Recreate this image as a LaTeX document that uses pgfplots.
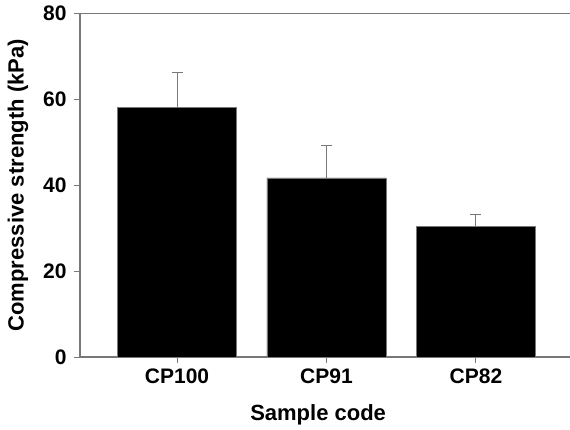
\documentclass[border=0pt]{standalone}
\usepackage{pgfplots}
\pgfplotsset{compat=1.18}
\usepackage{fontspec}
\setmainfont{Liberation Sans}
\definecolor{axgray}{RGB}{120,120,120}
\begin{document}
\begin{tikzpicture}
\begin{axis}[
  scale only axis,
  width=490pt, height=343.5pt,
  xmin=-0.649, xmax=2.629,
  ymin=0, ymax=80,
  axis x line*=box, axis y line*=left,
  axis line style={axgray, line width=1.3pt},
  xtick={0,1,2},
  xticklabels={CP100,CP91,CP82},
  ytick={0,20,40,60,80},
  xtick pos=lower, ytick pos=left,
  tick align=outside,
  major tick length=6pt,
  tick style={axgray, line width=1pt},
  /pgf/number format/assume math mode=true,
  ticklabel style={font=\fontsize{21}{25}\selectfont\bfseries},
  xticklabel style={yshift=-2pt},
  yticklabel style={xshift=-4pt},
  xlabel={Sample code},
  ylabel={Compressive strength (kPa)},
  label style={font=\fontsize{22}{26}\selectfont\bfseries},
  xlabel style={at={(axis description cs:0.486,0)}, anchor=center, yshift=-58pt},
  ylabel style={at={(axis description cs:0,0.5)}, anchor=center, yshift=62pt},
  ybar, bar width=119pt,
  clip=false,
]
\addplot[fill=black, draw=axgray, line width=0.8pt,
  error bars/.cd, y dir=plus, y explicit,
  error bar style={axgray, line width=1pt},
  error mark options={rotate=90, mark size=5.5pt, axgray, line width=1pt}]
  coordinates {
  (0,58.1) +- (0,8.2)
  (1,41.7) +- (0,7.6)
  (2,30.5) +- (0,2.8)
};
\end{axis}
\pgfresetboundingbox
\path[use as bounding box] (current axis.south west) ++(-80pt,-72pt) rectangle ++(570pt,429pt);
\end{tikzpicture}
\end{document}
